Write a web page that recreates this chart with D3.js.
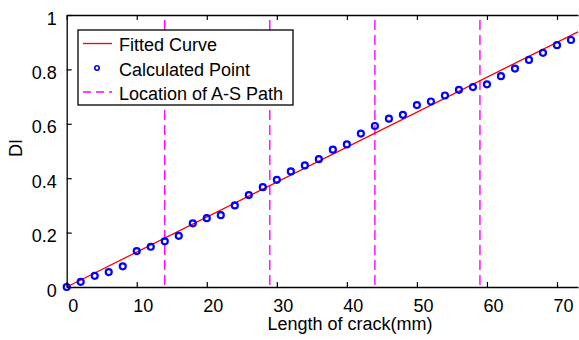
<!DOCTYPE html>
<html lang="en">
<head>
<meta charset="UTF-8">
<title>DI vs Length of crack</title>
<script src="https://d3js.org/d3.v7.min.js"></script>
<style>
  body { margin: 0; background: #fff; }
  text { font-family: "Liberation Sans", Arial, sans-serif; fill: #000; }
</style>
</head>
<body>
<div id="chart"></div>
<script>
// crack length (mm) and calculated damage index
var crackLen = [0,2,4,6,8,10,12,14,16,18,20,22,24,26,28,30,32,34,36,38,40,42,44,46,48,50,52,54,56,58,60,62,64,66,68,70,72];
var diValues = [0.000,0.019,0.041,0.055,0.076,0.132,0.148,0.168,0.188,0.234,0.253,0.264,0.300,0.338,0.367,0.394,
                0.425,0.447,0.470,0.505,0.524,0.564,0.592,0.619,0.633,0.669,0.682,0.704,0.725,0.735,0.745,0.775,
                0.803,0.835,0.861,0.889,0.908];
// fitted straight line end points
var fitX = [0, 73];
var fitY = [0, 0.938];
// A-S path locations (mm)
var pathLoc = [14, 29, 44, 59];
var xTicks = [0,10,20,30,40,50,60,70];
var yTicks = [0,0.2,0.4,0.6,0.8,1];
var legendLabels = ["Fitted Curve","Calculated Point","Location of A-S Path"];

var w = 579, h = 340;
var pLeft = 66.7, pRight = 578, pTop = 15, pBottom = 287;

var x = d3.scaleLinear().domain([0, 73]).range([pLeft, pRight]);
var y = d3.scaleLinear().domain([0, 1]).range([pBottom, pTop]);

var svg = d3.select("#chart").append("svg")
    .attr("width", w)
    .attr("height", h);

// A-S path lines
svg.selectAll("line.path").data(pathLoc).enter().append("line")
    .attr("class", "path")
    .attr("x1", function(d) { return x(d); })
    .attr("x2", function(d) { return x(d); })
    .attr("y1", pTop + 5)
    .attr("y2", pBottom)
    .attr("stroke", "#ff00ff")
    .attr("stroke-width", 1.4)
    .attr("stroke-dasharray", "10,5");

// fitted curve
var fit = fitX.map(function(d, i) { return [d, fitY[i]]; });
svg.append("path")
    .datum(fit)
    .attr("d", d3.line().x(function(d) { return x(d[0]); }).y(function(d) { return y(d[1]); }))
    .attr("stroke", "#ff0000")
    .attr("stroke-width", 1.3)
    .attr("fill", "none");

// calculated points
svg.selectAll("circle.pt").data(crackLen).enter().append("circle")
    .attr("class", "pt")
    .attr("cx", function(d) { return x(d); })
    .attr("cy", function(d, i) { return y(diValues[i]); })
    .attr("r", 3)
    .attr("fill", "none")
    .attr("stroke", "#0000ff")
    .attr("stroke-width", 2.2);

// axes (ticks point inside)
var xAxis = d3.axisBottom(x).tickValues(xTicks).tickSizeInner(-5).tickSizeOuter(0).tickPadding(12);
var gx = svg.append("g").attr("transform", "translate(0," + pBottom + ")").call(xAxis);
gx.selectAll("text").attr("font-size", "18px").attr("dx", 6).attr("dy", "0.71em");

var xTop = d3.axisTop(x).tickValues(xTicks).tickSizeInner(-5).tickSizeOuter(0).tickFormat("");
svg.append("g").attr("transform", "translate(0," + pTop + ")").call(xTop);

var yAxis = d3.axisLeft(y).tickValues(yTicks).tickSizeInner(-5).tickSizeOuter(0).tickPadding(10)
    .tickFormat(function(d) { return d === 0 || d === 1 ? d : d.toFixed(1); });
var gy = svg.append("g").attr("transform", "translate(" + pLeft + ",0)").call(yAxis);
gy.selectAll("text").attr("font-size", "18px").attr("dy", "0.5em");

svg.selectAll(".domain").attr("stroke", "#000").attr("stroke-width", 1.3);
svg.selectAll(".tick line").attr("stroke", "#000").attr("stroke-width", 1.2);
svg.selectAll("g").attr("font-family", null);

// axis titles
svg.append("text")
    .attr("x", 350)
    .attr("y", 330)
    .attr("text-anchor", "middle")
    .attr("font-size", "18px")
    .text("Length of crack(mm)");

svg.append("text")
    .attr("transform", "translate(22,148) rotate(-90)")
    .attr("text-anchor", "middle")
    .attr("font-size", "18px")
    .text("DI");

// legend
var lg = svg.append("g");
lg.append("rect")
    .attr("x", 78)
    .attr("y", 30)
    .attr("width", 215)
    .attr("height", 75)
    .attr("fill", "#fff")
    .attr("stroke", "#000")
    .attr("stroke-width", 1.3);

var rowY = [43.5, 68, 92];
lg.append("line")
    .attr("x1", 83).attr("x2", 112).attr("y1", rowY[0]).attr("y2", rowY[0])
    .attr("stroke", "#ff0000").attr("stroke-width", 1.3);
lg.append("circle")
    .attr("cx", 97).attr("cy", rowY[1]).attr("r", 2.2)
    .attr("fill", "none").attr("stroke", "#0000ff").attr("stroke-width", 1.6);
lg.append("line")
    .attr("x1", 83).attr("x2", 112).attr("y1", rowY[2]).attr("y2", rowY[2])
    .attr("stroke", "#ff00ff").attr("stroke-width", 1.4).attr("stroke-dasharray", "8,5");

lg.selectAll("text").data(legendLabels).enter().append("text")
    .attr("x", 119)
    .attr("y", function(d, i) { return rowY[i] + 1.5; })
    .attr("dy", "0.35em")
    .attr("font-size", "18px")
    .text(function(d) { return d; });
</script>
</body>
</html>
